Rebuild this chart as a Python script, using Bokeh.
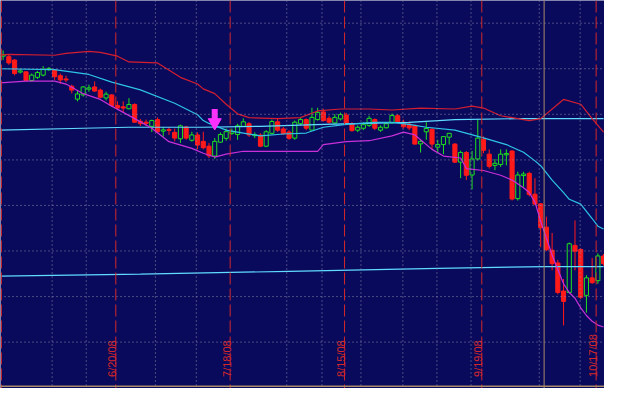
import math
from bokeh.plotting import figure
from bokeh.models import Span, Range1d
from bokeh.core.properties import value
from bokeh.embed import file_html
from bokeh.resources import INLINE

# ---------------- data ----------------
open_ = [94.2, 94.15, 93.8, 92.55, 92.57, 91.67, 92.0, 92.23, 92.8, 92.77,
         92.17, 91.83, 91.07, 89.73, 90.17, 90.77, 91.0, 90.67, 89.85, 90.17,
         89.07, 88.93, 88.73, 89.17, 87.43, 87.33, 86.9, 87.6, 86.4, 86.57,
         86.27, 85.6, 86.83, 85.45, 86.0, 85.33, 84.83, 83.8, 85.25, 85.65,
         86.17, 86.05, 86.9, 87.17, 85.93, 86.0, 84.83, 86.17, 87.37, 86.63,
         86.3, 85.67, 87.17, 87.6, 86.5, 87.6, 88.4, 87.73, 87.25, 87.67,
         88.07, 87.17, 86.5, 86.7, 87.0, 87.6, 86.5, 86.75, 87.27, 88.0,
         87.33, 87.13, 87.0, 85.07, 86.33, 86.6, 84.73, 85.0, 85.77, 85.05,
         83.17, 84.17, 81.83, 83.5, 85.55, 84.0, 82.83, 82.93, 83.93, 84.33,
         79.37, 81.77, 82.0, 79.83, 78.83, 76.4, 74.0, 72.67, 69.75, 69.6,
         74.5, 74.07, 69.3, 71.12, 70.83, 73.4]
high = [94.8, 94.35, 93.9, 92.9, 92.6, 92.4, 92.67, 93.17, 93.07, 92.83,
        92.4, 92.17, 91.23, 90.67, 91.07, 91.23, 91.57, 90.83, 90.5, 90.25,
        89.5, 89.5, 89.83, 89.3, 87.67, 87.6, 87.6, 87.83, 86.83, 86.83,
        86.67, 87.07, 86.95, 86.33, 86.27, 86.33, 85.17, 85.67, 86.27, 86.67,
        86.67, 87.17, 87.73, 87.33, 86.27, 86.17, 86.5, 87.6, 87.67, 86.83,
        86.5, 87.5, 87.83, 87.73, 88.83, 88.83, 88.73, 88.0, 88.17, 88.33,
        88.3, 87.33, 87.0, 87.3, 88.0, 87.73, 87.0, 87.33, 88.23, 88.17,
        87.6, 87.4, 87.07, 85.5, 87.33, 86.7, 85.5, 85.83, 86.17, 85.15,
        84.37, 84.33, 84.33, 87.67, 85.85, 84.5, 83.5, 84.5, 84.5, 84.4,
        82.17, 82.17, 82.17, 81.5, 78.9, 77.5, 75.8, 73.0, 71.0, 74.8,
        77.1, 74.2, 71.4, 73.2, 73.67, 73.6]
low = [93.8, 93.3, 92.2, 92.4, 91.6, 91.57, 91.83, 92.1, 92.67, 91.73,
       91.33, 91.5, 90.33, 89.5, 90.0, 90.5, 90.5, 89.83, 89.6, 88.93,
       88.67, 88.4, 88.67, 87.25, 86.93, 86.93, 86.3, 86.27, 85.83, 86.0,
       85.33, 85.17, 85.5, 85.3, 84.5, 84.5, 83.6, 83.5, 85.17, 85.4,
       86.0, 85.5, 86.83, 85.8, 85.67, 84.73, 84.73, 86.07, 86.33, 86.0,
       85.5, 85.5, 87.0, 86.5, 86.5, 87.5, 87.4, 87.17, 87.17, 87.5,
       87.17, 86.35, 86.3, 86.5, 86.83, 86.5, 86.33, 86.67, 87.17, 87.27,
       86.67, 86.5, 85.0, 84.17, 85.5, 84.5, 84.17, 84.0, 85.0, 83.1,
       81.5, 81.3, 80.33, 83.33, 84.1, 82.5, 82.33, 82.67, 82.83, 79.17,
       79.17, 80.6, 79.6, 78.7, 74.3, 73.9, 71.9, 69.4, 66.17, 69.5,
       71.9, 68.9, 67.5, 70.5, 70.5, 72.4]
close = [94.35, 93.5, 92.4, 92.67, 91.67, 92.23, 92.5, 92.83, 92.93, 92.07,
         91.73, 91.73, 90.67, 90.27, 91.0, 90.9, 90.57, 89.93, 90.25, 89.07,
         88.8, 88.8, 89.17, 87.33, 87.17, 87.2, 87.5, 86.33, 86.53, 86.47,
         85.67, 86.95, 85.67, 86.0, 84.95, 84.67, 83.83, 85.33, 86.05, 86.35,
         86.33, 86.95, 87.37, 86.0, 86.03, 84.83, 86.33, 87.4, 86.5, 86.13,
         85.65, 87.33, 87.6, 86.7, 87.83, 88.35, 87.5, 87.33, 87.83, 88.12,
         87.25, 86.45, 86.8, 87.07, 87.73, 86.7, 86.8, 87.17, 88.03, 87.37,
         86.85, 86.73, 85.05, 85.33, 86.67, 85.05, 85.0, 85.83, 86.17, 83.17,
         84.17, 81.8, 83.5, 85.67, 84.4, 82.73, 83.05, 84.0, 84.07, 79.33,
         81.83, 81.93, 79.8, 78.8, 76.35, 74.05, 72.6, 69.6, 68.67, 74.67,
         73.9, 69.1, 71.12, 70.62, 73.4, 72.6]

# Bollinger bands (bar index, value)
upper_idx = [-1, 1, 9, 11, 15, 17, 20, 22, 27, 31, 34, 35, 37, 39, 41, 43, 48, 52, 55,
             59, 64, 68, 73, 79, 82, 84, 87, 89, 92, 94, 97, 98, 101, 103, 105]
upper_val = [94.3, 94.4, 94.3, 94.5, 94.7, 94.6, 94.2, 93.6, 93.5, 92.0, 91.3, 90.8, 90.3,
             89.2, 88.2, 87.8, 87.7, 87.8, 88.5, 88.7, 88.7, 88.6, 88.8, 88.7, 89.0, 88.8,
             88.0, 87.8, 87.5, 87.7, 89.2, 89.7, 89.2, 87.7, 86.3]
mid_idx = [-1, 9, 15, 19, 24, 30, 34, 35, 36, 39, 42, 45, 49, 53, 56, 60, 65, 68, 71,
           74, 79, 84, 88, 91, 93, 94, 96, 98, 99, 101, 103, 104, 105]
mid_val = [92.9, 92.8, 92.3, 91.5, 90.7, 89.3, 88.1, 87.5, 87.2, 86.5, 86.2, 85.9, 86.1,
           86.2, 86.8, 87.1, 87.3, 87.3, 87.1, 86.8, 86.5, 85.7, 85.0, 84.2, 83.3, 82.8,
           81.3, 80.0, 79.3, 78.8, 77.3, 76.5, 76.2]
lower_idx = [-1, 4, 9, 11, 14, 17, 19, 23, 26, 29, 33, 35, 37, 39, 42, 48, 55, 56, 60,
             64, 68, 70, 72, 75, 77, 80, 81, 84, 87, 89, 91, 92, 93, 94, 96, 97, 98, 99,
             100, 101, 102, 103, 104, 105]
lower_val = [91.4, 91.6, 91.6, 91.3, 90.3, 89.7, 89.0, 87.7, 86.7, 85.3, 84.6, 84.1, 83.7,
             84.0, 84.3, 84.3, 84.3, 85.0, 85.3, 85.4, 85.9, 86.3, 86.0, 84.5, 83.8, 83.6,
             82.5, 82.3, 81.8, 81.3, 80.5, 80.0, 79.0, 77.0, 73.5, 72.0, 70.5, 69.6, 69.0,
             68.0, 67.2, 66.6, 66.2, 66.0]
# long moving averages
ma1_idx = [-1, 14, 22, 35, 45, 56, 71, 79, 90, 105]
ma1_val = [86.5, 86.7, 86.8, 86.8, 86.9, 87.1, 87.3, 87.6, 87.7, 87.7]
ma2_idx = [-1, 24, 50, 76, 95, 105]
ma2_val = [71.3, 71.5, 71.8, 72.1, 72.3, 72.3]

expiry_labels = ["6/20/08", "7/18/08", "8/15/08", "9/19/08", "10/17/08"]
expiry_index = [19, 39, 59, 83, 103]
signal_index = [37]
signal_price = [86.6]
cursor_index = [94]
grid_levels = [97.64, 92.9, 88.15, 83.4, 78.66, 73.92, 69.17, 64.43]
grid_index = [8.57, 14.53, 26.63, 33.78, 49.6, 55.76, 62.57, 69.9, 75.86, 81.82, 93.75, 100.9]

# ---------------- styling ----------------
BG = "#0a0a5c"
GREEN = "#1ee01e"
RED = "#ff1a1a"
UPPER = "#d41e30"
MID = "#2ec4e6"
LOWER = "#c830d8"
MA = "#5fdcff"
DASH = "#d42828"
TAN = "#a88a6a"
GRID = "#8a8aaa"
ARROW = "#ff30ff"

p = figure(width=604, height=388, x_range=Range1d(-0.46, 105.16), y_range=Range1d(59.6, 100),
           output_backend="svg", toolbar_location=None, x_axis_type=None, y_axis_type=None,
           min_border=0, background_fill_color=BG, border_fill_color=BG,
           outline_line_color=None)

for lv in grid_levels:
    p.add_layout(Span(location=lv, dimension="width", line_color=GRID, line_dash="1 3", line_width=1))
for gx in grid_index:
    p.add_layout(Span(location=gx, dimension="height", line_color=GRID, line_dash="1 3", line_width=1))
for ex in expiry_index + [-1]:
    p.add_layout(Span(location=ex + 0.7, dimension="height", line_color=DASH, line_dash="12 4", line_width=1))
for cx in cursor_index:
    p.add_layout(Span(location=cx + 0.6, dimension="height", line_color=TAN, line_width=1))
p.add_layout(Span(location=59.83, dimension="width", line_color=TAN, line_width=1.5))

xs = list(range(len(close)))
up = [i for i in xs if close[i] >= open_[i]]
dn = [i for i in xs if close[i] < open_[i]]

p.segment(up, [high[i] for i in up], up, [low[i] for i in up], line_color=GREEN, line_width=1)
p.vbar(x=up, width=0.72, top=[close[i] for i in up], bottom=[open_[i] for i in up],
       fill_color=BG, line_color=GREEN, line_width=1)
p.segment(dn, [high[i] for i in dn], dn, [low[i] for i in dn], line_color=RED, line_width=1)
p.vbar(x=dn, width=0.72, top=[open_[i] for i in dn], bottom=[close[i] for i in dn],
       fill_color=RED, line_color=RED, line_width=1)

p.line(ma1_idx, ma1_val, line_color=MA, line_width=1.2)
p.line(ma2_idx, ma2_val, line_color=MA, line_width=1.2)
p.line(upper_idx, upper_val, line_color=UPPER, line_width=1.2)
p.line(lower_idx, lower_val, line_color=LOWER, line_width=1.2)
p.line(mid_idx, mid_val, line_color=MID, line_width=1.2)

# signal arrow
p.segment(signal_index, [v + 2.1 for v in signal_price], signal_index, [v + 0.8 for v in signal_price],
          line_color=ARROW, line_width=6)
p.scatter(signal_index, [v + 0.7 for v in signal_price], marker="inverted_triangle", size=13,
          fill_color=ARROW, line_color=ARROW)

p.text(x=[e + 0.1 for e in expiry_index], y=[60.8] * len(expiry_index), text=expiry_labels,
       angle=math.pi / 2, text_color=DASH, text_font=value("Liberation Sans"),
       text_font_size="11px", text_align="left", text_baseline="alphabetic")

open("out.html", "w").write(file_html(p, INLINE))
